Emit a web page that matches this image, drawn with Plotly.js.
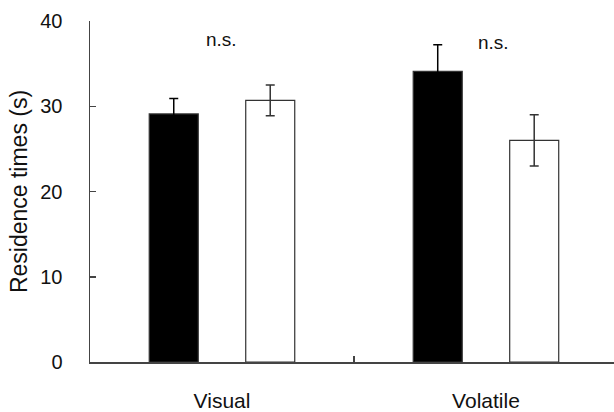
<!DOCTYPE html>
<html>
<head>
<meta charset="utf-8">
<script src="https://cdn.plot.ly/plotly-3.0.1.min.js"></script>
<style>html,body{margin:0;padding:0;background:#fff;}#chart{width:614px;height:412px;}</style>
</head>
<body>
<div id="chart"></div>
<script>
const categories = ["Visual", "Volatile"];
const blackValues = [29.1, 34.1];
const blackErrors = [1.8, 3.1];
const whiteValues = [30.7, 26.0];
const whiteErrors = [1.8, 3.0];
const yTickValues = [0, 10, 20, 30, 40];
const sigLabels = ["n.s.", "n.s."];
const sigY = [37.8, 37.5];
const sigX = [0, 1.03];

const font = "Liberation Sans, Arial, sans-serif";
const edge = "#333333";

const traces = [
  {
    type: "bar", x: categories, y: blackValues, name: "black",
    marker: {color: "#000000", line: {color: edge, width: 1.2}},
    error_y: {type: "data", array: blackErrors, visible: true, color: "#000000", thickness: 1.5, width: 4.5}
  },
  {
    type: "bar", x: categories, y: whiteValues, name: "white",
    marker: {color: "#ffffff", line: {color: edge, width: 1.2}},
    error_y: {type: "data", array: whiteErrors, visible: true, color: edge, thickness: 1.5, width: 4.5}
  }
];

const annotations = sigLabels.map((t, i) => ({
  text: t, x: sigX[i], y: sigY[i], xref: "x", yref: "y",
  showarrow: false, font: {family: font, size: 19, color: "#111"}
}));

const layout = {
  width: 614, height: 412,
  margin: {l: 90, r: 0, t: 21, b: 50},
  paper_bgcolor: "#ffffff", plot_bgcolor: "#ffffff",
  showlegend: false,
  barmode: "group", bargap: 0.269, bargroupgap: 0.492,
  font: {family: font, color: "#111"},
  xaxis: {
    type: "category", range: [-0.5, 1.485],
    showline: true, linecolor: "#444", linewidth: 1.5,
    ticks: "inside", tickson: "boundaries", ticklen: 6, tickcolor: "#444", tickwidth: 1.5,
    showgrid: false, zeroline: false,
    tickfont: {family: font, size: 21, color: "#111"},
    ticklabelstandoff: 19
  },
  yaxis: {
    range: [0, 40], tickvals: yTickValues,
    showline: true, linecolor: "#444", linewidth: 1.5,
    ticks: "inside", ticklen: 6, tickcolor: "#444", tickwidth: 1.5,
    showgrid: false, zeroline: false,
    tickfont: {family: font, size: 20, color: "#111"},
    ticklabelstandoff: 22,
    title: {text: "Residence times (s)", font: {family: font, size: 23, color: "#111"}, standoff: 6}
  },
  annotations: annotations
};

Plotly.newPlot("chart", traces, layout, {displayModeBar: false, staticPlot: true});
</script>
</body>
</html>
